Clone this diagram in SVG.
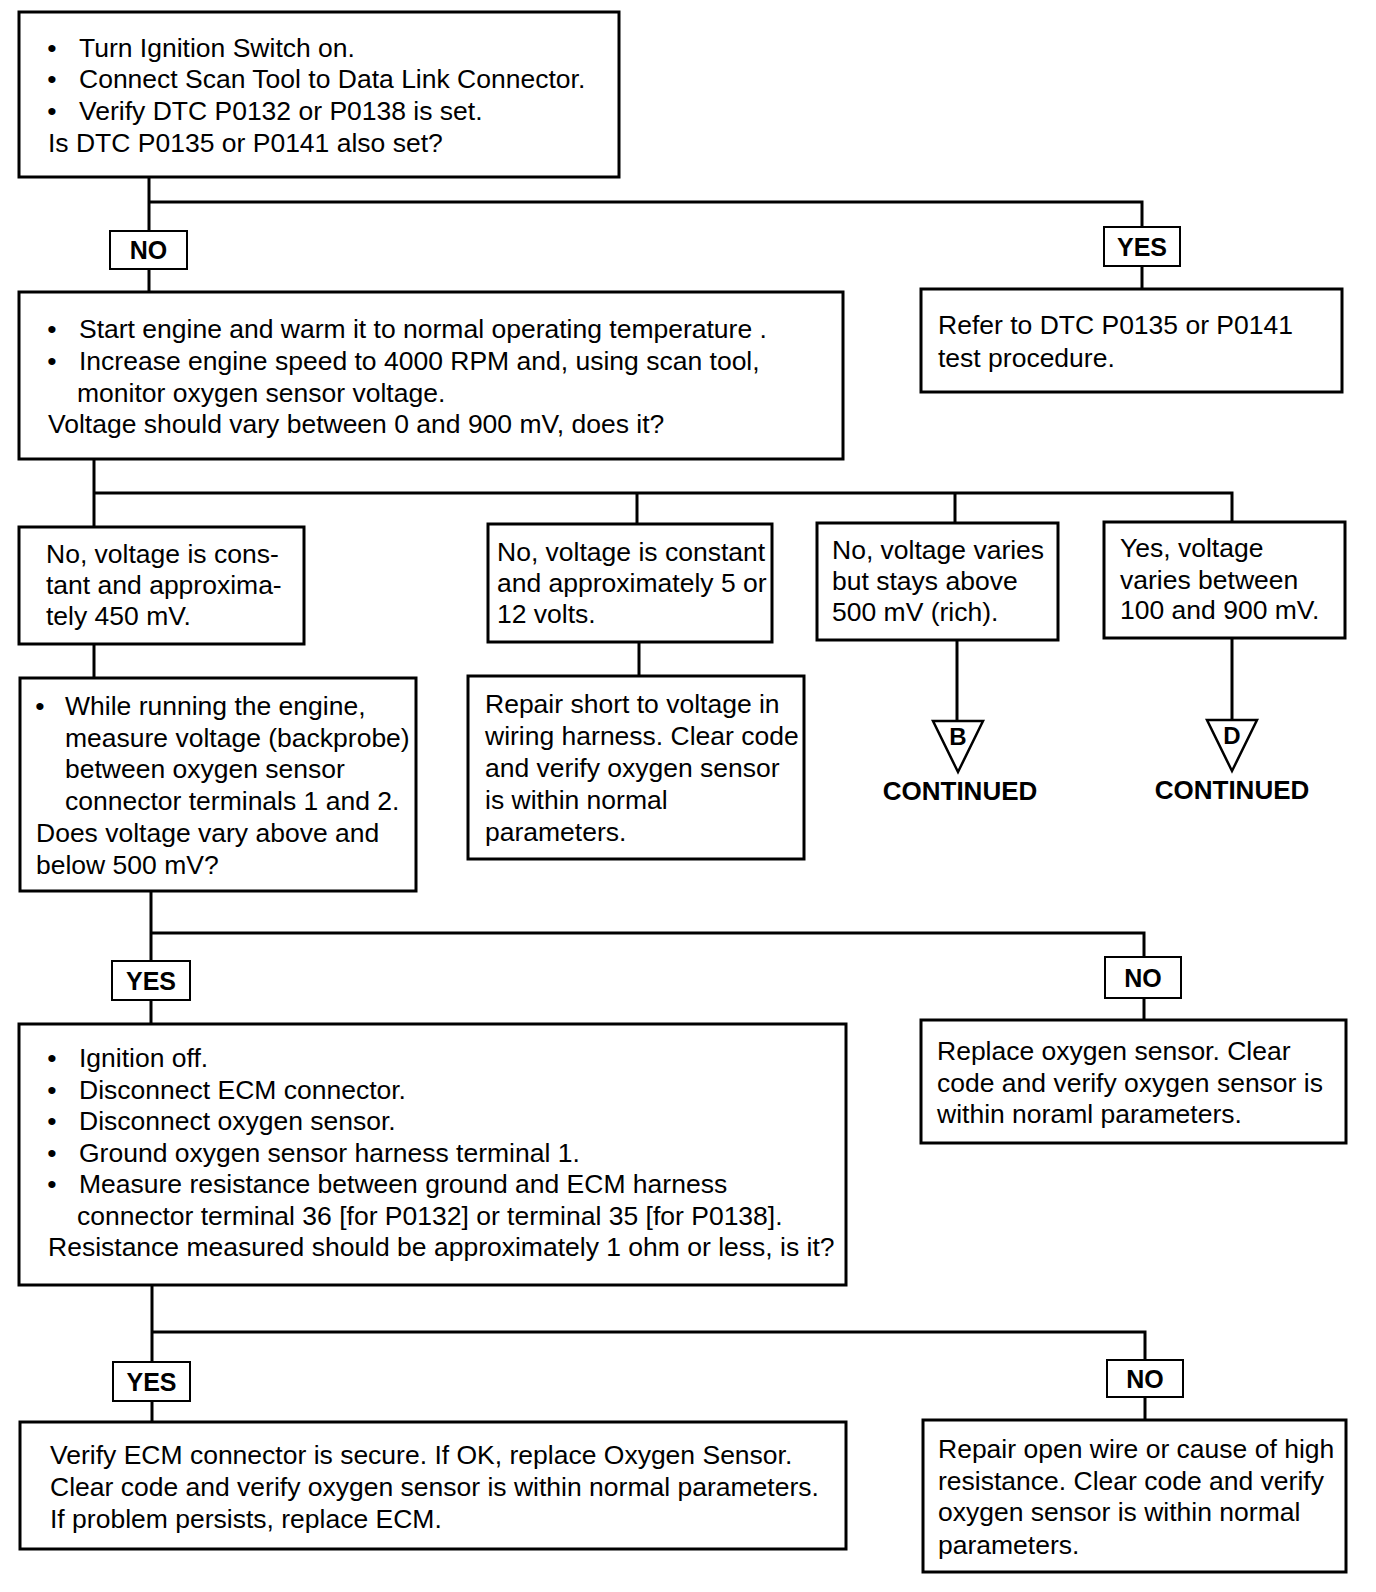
<svg xmlns="http://www.w3.org/2000/svg" width="1376" height="1592" viewBox="0 0 1376 1592">
<style>
.box{fill:#fff;stroke:#000;stroke-width:3}
.lbl{fill:#fff;stroke:#000;stroke-width:2}
.ln{fill:none;stroke:#000;stroke-width:3}
.t{font-family:"Liberation Sans",Arial,sans-serif;font-size:26.5px;fill:#000}
.b{font-family:"Liberation Sans",Arial,sans-serif;font-size:25px;font-weight:bold;fill:#000;text-anchor:middle}
.c{font-family:"Liberation Sans",Arial,sans-serif;font-size:26px;font-weight:bold;fill:#000;text-anchor:middle}
.bu{text-anchor:middle}
</style>
<rect width="1376" height="1592" fill="#fff"/>
<g id="connectors">
<polyline class="ln" points="149,177 149,231"/>
<polyline class="ln" points="149,269 149,292"/>
<polyline class="ln" points="149,202 1142,202 1142,227"/>
<polyline class="ln" points="1142,266 1142,289"/>
<polyline class="ln" points="94,459 94,527"/>
<polyline class="ln" points="94,493 1232,493 1232,522"/>
<polyline class="ln" points="637,493 637,524"/>
<polyline class="ln" points="955,493 955,523"/>
<polyline class="ln" points="957,640 957,721"/>
<polyline class="ln" points="1232,638 1232,720"/>
<polyline class="ln" points="94,644 94,678"/>
<polyline class="ln" points="639,642 639,676"/>
<polyline class="ln" points="151,891 151,961"/>
<polyline class="ln" points="151,1000 151,1024"/>
<polyline class="ln" points="151,933 1144,933 1144,957"/>
<polyline class="ln" points="1144,998 1144,1020"/>
<polyline class="ln" points="152,1285 152,1362"/>
<polyline class="ln" points="152,1401 152,1422"/>
<polyline class="ln" points="152,1332 1145,1332 1145,1360"/>
<polyline class="ln" points="1145,1397 1145,1420"/>
</g>
<g id="start">
<rect class="box" x="19" y="12" width="600" height="165"/>
<text class="t bu" x="52" y="57">•</text><text class="t" x="79" y="57">Turn Ignition Switch on.</text>
<text class="t bu" x="52" y="88">•</text><text class="t" x="79" y="88">Connect Scan Tool to Data Link Connector.</text>
<text class="t bu" x="52" y="120">•</text><text class="t" x="79" y="120">Verify DTC P0132 or P0138 is set.</text>
<text class="t" x="48" y="152">Is DTC P0135 or P0141 also set?</text>
</g>
<g id="lbl-no1"><rect class="lbl" x="110" y="231" width="77" height="38"/><text class="b" x="148.5" y="259">NO</text></g>
<g id="lbl-yes1"><rect class="lbl" x="1104" y="227" width="76" height="39"/><text class="b" x="1142" y="255.5">YES</text></g>
<g id="refer">
<rect class="box" x="921" y="289" width="421" height="103"/>
<text class="t" x="938" y="334">Refer to DTC P0135 or P0141</text>
<text class="t" x="938" y="367">test procedure.</text>
</g>
<g id="start-engine">
<rect class="box" x="19" y="292" width="824" height="167"/>
<text class="t bu" x="52" y="338">•</text><text class="t" x="79" y="338">Start engine and warm it to normal operating temperature .</text>
<text class="t bu" x="52" y="370">•</text><text class="t" x="79" y="370">Increase engine speed to 4000 RPM and, using scan tool,</text>
<text class="t" x="77" y="402">monitor oxygen sensor voltage.</text>
<text class="t" x="48" y="433">Voltage should vary between 0 and 900 mV, does it?</text>
</g>
<g id="const450">
<rect class="box" x="19" y="527" width="285" height="117"/>
<text class="t" x="46" y="563">No, voltage is cons-</text>
<text class="t" x="46" y="594">tant and approxima-</text>
<text class="t" x="46" y="625">tely 450 mV.</text>
</g>
<g id="const5-12">
<rect class="box" x="488" y="524" width="284" height="118"/>
<text class="t" x="497" y="561">No, voltage is constant</text>
<text class="t" x="497" y="592">and approximately 5 or</text>
<text class="t" x="497" y="623">12 volts.</text>
</g>
<g id="rich">
<rect class="box" x="817" y="523" width="241" height="117"/>
<text class="t" x="832" y="559">No, voltage varies</text>
<text class="t" x="832" y="590">but stays above</text>
<text class="t" x="832" y="621">500 mV (rich).</text>
</g>
<g id="varies">
<rect class="box" x="1104" y="522" width="241" height="116"/>
<text class="t" x="1120" y="557">Yes, voltage</text>
<text class="t" x="1120" y="589">varies between</text>
<text class="t" x="1120" y="619">100 and 900 mV.</text>
</g>
<g id="cont-b">
<polygon points="933,721 983,721 958,772" fill="#fff" stroke="#000" stroke-width="2.5"/>
<text class="b" x="958" y="745" style="font-size:24px">B</text>
<text class="c" x="960" y="800">CONTINUED</text>
</g>
<g id="cont-d">
<polygon points="1207,720 1257,720 1232,771" fill="#fff" stroke="#000" stroke-width="2.5"/>
<text class="b" x="1232" y="744" style="font-size:24px">D</text>
<text class="c" x="1232" y="799">CONTINUED</text>
</g>
<g id="measure-voltage">
<rect class="box" x="20" y="678" width="396" height="213"/>
<text class="t bu" x="40" y="715">•</text><text class="t" x="65" y="715">While running the engine,</text>
<text class="t" x="65" y="747">measure voltage (backprobe)</text>
<text class="t" x="65" y="778">between oxygen sensor</text>
<text class="t" x="65" y="810">connector terminals 1 and 2.</text>
<text class="t" x="36" y="842">Does voltage vary above and</text>
<text class="t" x="36" y="874">below 500 mV?</text>
</g>
<g id="repair-short">
<rect class="box" x="468" y="676" width="336" height="183"/>
<text class="t" x="485" y="713">Repair short to voltage in</text>
<text class="t" x="485" y="745">wiring harness. Clear code</text>
<text class="t" x="485" y="777">and verify oxygen sensor</text>
<text class="t" x="485" y="809">is within normal</text>
<text class="t" x="485" y="841">parameters.</text>
</g>
<g id="lbl-yes2"><rect class="lbl" x="112" y="961" width="78" height="39"/><text class="b" x="151" y="989.5">YES</text></g>
<g id="lbl-no2"><rect class="lbl" x="1105" y="957" width="76" height="41"/><text class="b" x="1143" y="986.5">NO</text></g>
<g id="replace-sensor">
<rect class="box" x="921" y="1020" width="425" height="123"/>
<text class="t" x="937" y="1060">Replace oxygen sensor. Clear</text>
<text class="t" x="937" y="1092">code and verify oxygen sensor is</text>
<text class="t" x="937" y="1123">within noraml parameters.</text>
</g>
<g id="resistance">
<rect class="box" x="19" y="1024" width="827" height="261"/>
<text class="t bu" x="52" y="1067">•</text><text class="t" x="79" y="1067">Ignition off.</text>
<text class="t bu" x="52" y="1099">•</text><text class="t" x="79" y="1099">Disconnect ECM connector.</text>
<text class="t bu" x="52" y="1130">•</text><text class="t" x="79" y="1130">Disconnect oxygen sensor.</text>
<text class="t bu" x="52" y="1162">•</text><text class="t" x="79" y="1162">Ground oxygen sensor harness terminal 1.</text>
<text class="t bu" x="52" y="1193">•</text><text class="t" x="79" y="1193">Measure resistance between ground and ECM harness</text>
<text class="t" x="77" y="1225">connector terminal 36 [for P0132] or terminal 35 [for P0138].</text>
<text class="t" x="48" y="1256">Resistance measured should be approximately 1 ohm or less, is it?</text>
</g>
<g id="lbl-yes3"><rect class="lbl" x="113" y="1362" width="77" height="39"/><text class="b" x="151.5" y="1390.5">YES</text></g>
<g id="lbl-no3"><rect class="lbl" x="1107" y="1360" width="76" height="37"/><text class="b" x="1145" y="1387.5">NO</text></g>
<g id="verify-ecm">
<rect class="box" x="20" y="1422" width="826" height="127"/>
<text class="t" x="50" y="1464">Verify ECM connector is secure. If OK, replace Oxygen Sensor.</text>
<text class="t" x="50" y="1496">Clear code and verify oxygen sensor is within normal parameters.</text>
<text class="t" x="50" y="1528">If problem persists, replace ECM.</text>
</g>
<g id="repair-open">
<rect class="box" x="923" y="1420" width="423" height="152"/>
<text class="t" x="938" y="1458">Repair open wire or cause of high</text>
<text class="t" x="938" y="1490">resistance. Clear code and verify</text>
<text class="t" x="938" y="1521">oxygen sensor is within normal</text>
<text class="t" x="938" y="1554">parameters.</text>
</g>
</svg>
